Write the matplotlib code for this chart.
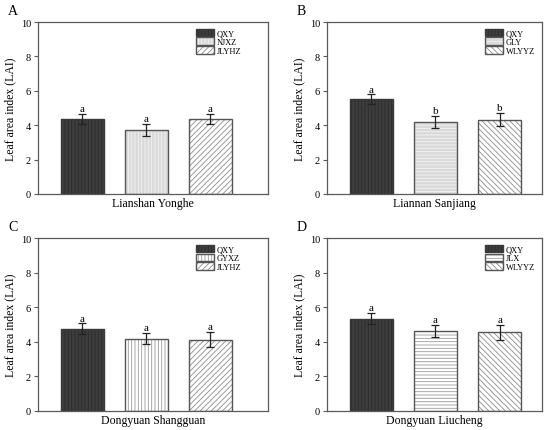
import numpy as np
import matplotlib
matplotlib.use('Agg')
import matplotlib.pyplot as plt

plt.rcParams['font.family'] = ['Liberation Serif', 'DejaVu Serif']
plt.rcParams['hatch.linewidth'] = 0.6

sites = ['Lianshan Yonghe', 'Liannan Sanjiang', 'Dongyuan Shangguan', 'Dongyuan Liucheng']
panel_letters = ['A', 'B', 'C', 'D']
varieties = [['QXY', 'NJXZ', 'JLYHZ'],
             ['QXY', 'GLY', 'WLYYZ'],
             ['QXY', 'GYXZ', 'JLYHZ'],
             ['QXY', 'JLX', 'WLYYZ']]
lai_mean = [[4.37, 3.73, 4.35],
            [5.53, 4.21, 4.33],
            [4.77, 4.19, 4.13],
            [5.35, 4.65, 4.56]]
lai_err = [[0.28, 0.35, 0.29],
           [0.27, 0.35, 0.38],
           [0.31, 0.32, 0.43],
           [0.33, 0.35, 0.43]]
sig_letters = [['a', 'a', 'a'],
               ['a', 'b', 'b'],
               ['a', 'a', 'a'],
               ['a', 'a', 'a']]

# (facecolor, hatch, hatch colour) per bar in each panel
bar_styles = [
    [('#3d3d3d', '|||||', '#2c2c2c'), ('#dadada', '|||||', '#f2f2f2'), ('white', '//////', '#8c8c8c')],
    [('#3d3d3d', '|||||', '#2c2c2c'), ('#dadada', '-----', '#f2f2f2'), ('white', '\\\\\\\\\\\\', '#8c8c8c')],
    [('#3d3d3d', '|||||', '#2c2c2c'), ('white', '|||||', '#9a9a9a'), ('white', '//////', '#8c8c8c')],
    [('#3d3d3d', '|||||', '#2c2c2c'), ('white', '-----', '#9a9a9a'), ('white', '\\\\\\\\\\\\', '#8c8c8c')],
]

# axes boxes in figure fraction
axes_pos = [[0.069, 0.5476, 0.418, 0.399],
            [0.5945, 0.5476, 0.391, 0.399],
            [0.069, 0.0441, 0.418, 0.401],
            [0.5945, 0.0441, 0.391, 0.401]]
xlims = [(-0.695, 2.898), (-0.69, 2.66), (-0.695, 2.898), (-0.69, 2.66)]
legend_x = [0.687, 0.735, 0.687, 0.735]
letter_x = [-0.13, -0.14, -0.13, -0.14]

spine_col = '#5a5a5a'

fig = plt.figure(figsize=(5.5, 4.31), dpi=100)

for k in range(4):
    ax = fig.add_axes(axes_pos[k])
    x = np.arange(len(varieties[k]))
    styles = bar_styles[k]
    handles = []
    for i in range(len(x)):
        fc, hatch, hc = styles[i]
        fill = ax.bar(x[i], lai_mean[k][i], width=0.67, color=fc, hatch=hatch,
                      edgecolor=hc, linewidth=0, zorder=2)
        edge = ax.bar(x[i], lai_mean[k][i], width=0.67, fill=False,
                      edgecolor='#3a3a3a' if i == 0 else '#555555', linewidth=1.0, zorder=3)
        handles.append((fill[0], edge[0]))
    ax.errorbar(x, lai_mean[k], yerr=lai_err[k], fmt='none', ecolor='#222222',
                elinewidth=0.9, capsize=3, capthick=0.9, zorder=4)
    for i in range(len(x)):
        ax.annotate(sig_letters[k][i], (x[i], lai_mean[k][i] + lai_err[k][i]),
                    xytext=(0, 0.5), textcoords='offset points',
                    ha='center', va='bottom', fontsize=8)

    ax.set_xlim(*xlims[k])
    ax.set_ylim(0, 10)
    ax.set_yticks([0, 2, 4, 6, 8, 10])
    ax.set_xticks([])
    ax.tick_params(axis='y', direction='out', length=3, width=0.8, color=spine_col,
                   labelsize=7.5, pad=2)
    for s in ax.spines.values():
        s.set_color(spine_col)
        s.set_linewidth(0.9)
    ax.set_ylabel('Leaf area index (LAI)', fontsize=8.5, labelpad=3)
    ax.set_xlabel(sites[k], fontsize=8.5, labelpad=2)

    ax.legend(handles, varieties[k], loc='upper left',
              bbox_to_anchor=(legend_x[k], 0.962), frameon=False, fontsize=6,
              borderpad=0, borderaxespad=0, handlelength=2.2, handleheight=1.05,
              labelspacing=0.02, handletextpad=0.3)

    ax.text(letter_x[k], 1.047, panel_letters[k], transform=ax.transAxes,
            fontsize=10, ha='left', va='baseline')

fig.savefig('out.png', dpi=100)
